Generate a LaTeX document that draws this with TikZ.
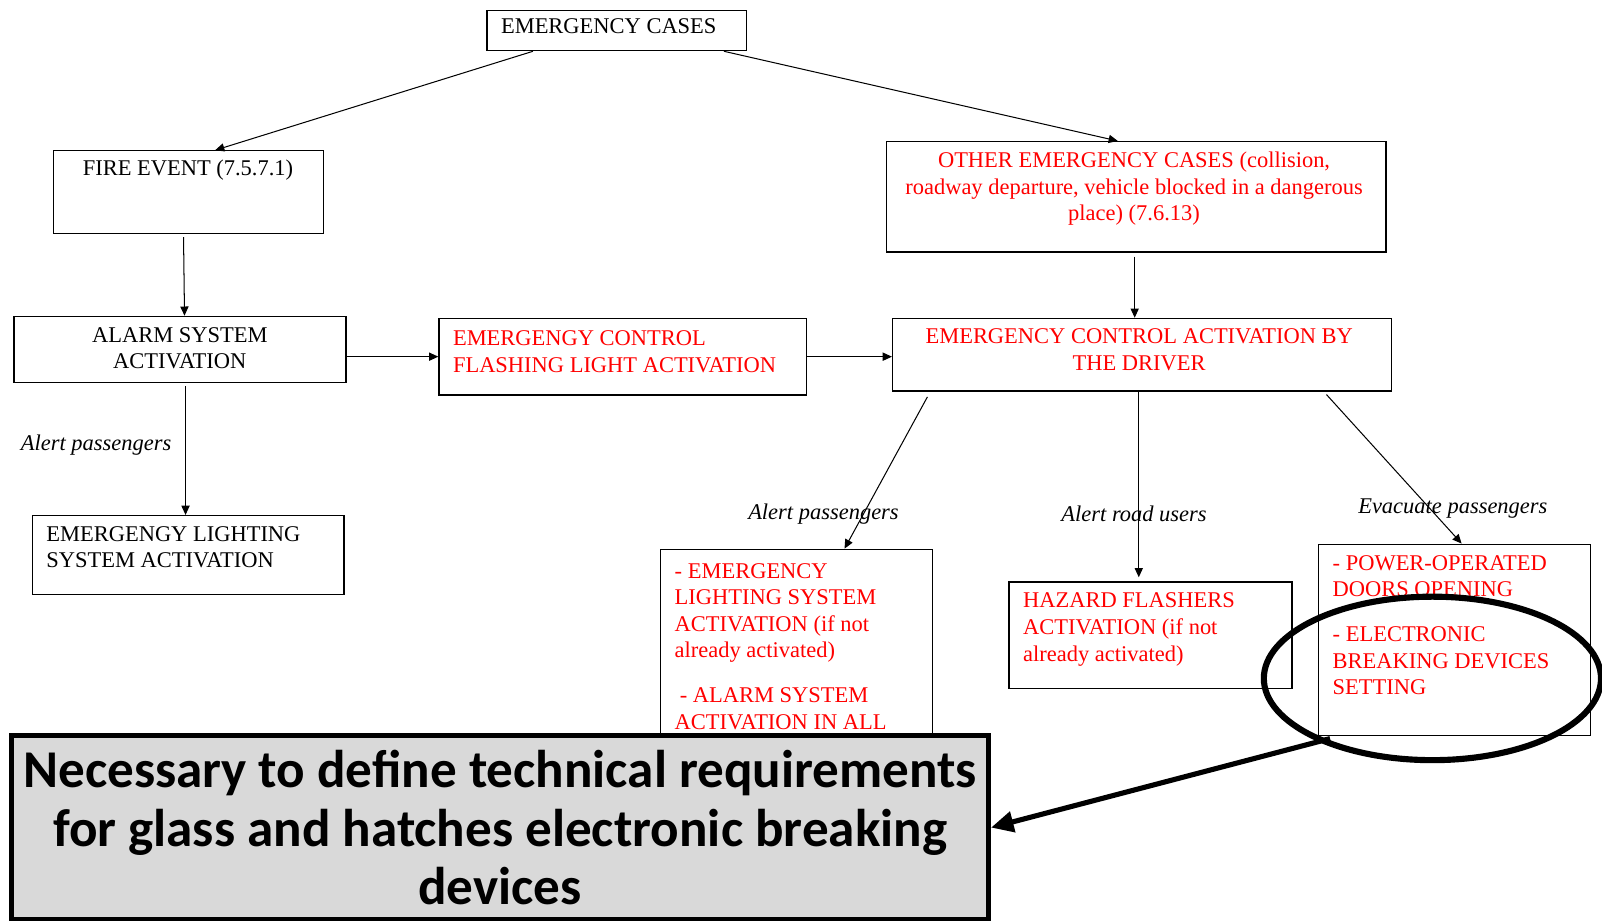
\documentclass[tikz,border=0pt]{standalone}
\usepackage{fontspec}
\setmainfont{Liberation Serif}
\newfontfamily\notefont{Carlito}
\usetikzlibrary{arrows.meta}
\usetikzlibrary{shapes.geometric}

\begin{document}
\begin{tikzpicture}[x=0.5pt,y=0.5pt,yscale=-1,xscale=1,
  box/.style={draw,line width=0.6pt,anchor=north west,inner sep=0pt},
  txt/.style={inner sep=0pt,font=\fontsize{11}{13}\selectfont},
  redtxt/.style={txt,text=red},
  lbl/.style={inner sep=0pt,font=\fontsize{11}{13}\selectfont\itshape},
  link/.style={line width=0.5pt,-{Triangle[length=4.5pt,width=4pt]}},
  ring/.style={ellipse,draw,line width=3pt,inner sep=0pt},
  note/.style={draw,line width=2.5pt,fill=black!15,anchor=north west,inner sep=0pt,align=center,font=\notefont\bfseries\fontsize{26}{28.5}\selectfont},
  bigarrow/.style={line width=2.5pt,-{Triangle[length=11pt,width=10pt]}}]
\useasboundingbox (0,0) rectangle (1568,901);
%Shape: Rectangle [cases]
\node [box,minimum width=127pt,minimum height=19.5pt] (cases) at (476,10) {};
%Shape: Rectangle [fire]
\node [box,minimum width=132pt,minimum height=40.5pt] (fire) at (52,147) {};
%Shape: Rectangle [other]
\node [box,minimum width=244.5pt,minimum height=54pt] (other) at (867,138) {};
%Shape: Rectangle [alarm]
\node [box,minimum width=162.5pt,minimum height=32.5pt] (alarm) at (13,309) {};
%Shape: Rectangle [flash]
\node [box,minimum width=180pt,minimum height=37.5pt] (flash) at (429,311) {};
%Shape: Rectangle [driver]
\node [box,minimum width=244pt,minimum height=35.5pt] (driver) at (873,311) {};
%Shape: Rectangle [elight]
\node [box,minimum width=152.5pt,minimum height=38.5pt] (elight) at (31,504) {};
%Shape: Rectangle [alertbox]
\node [box,minimum width=133pt,minimum height=100pt] (alertbox) at (646,537) {};
%Shape: Rectangle [hazard]
\node [box,minimum width=138.5pt,minimum height=52pt] (hazard) at (987,569) {};
%Shape: Rectangle [power]
\node [box,minimum width=133pt,minimum height=93.5pt] (power) at (1290,532) {};
% Text Node
\draw (490,26) node [txt,anchor=west] (casestxt) {EMERGENCY CASES};
% Text Node
\draw (184,166) node [txt] (firetxt) {FIRE EVENT (7.5.7.1)};
% Text Node
\draw (1110,185) node [redtxt,align=center] (othertxt) {OTHER EMERGENCY CASES (collision,\\roadway departure, vehicle blocked in a dangerous\\place) (7.6.13)};
% Text Node
\draw (176,341) node [txt,align=center] (alarmtxt) {ALARM SYSTEM\\ACTIVATION};
% Text Node
\draw (443,344) node [redtxt,anchor=west,align=left] (flashtxt) {EMERGENGY CONTROL\\FLASHING LIGHT ACTIVATION};
% Text Node
\draw (1115,342.5) node [redtxt,align=center] (drivertxt) {EMERGENCY CONTROL ACTIVATION BY\\THE DRIVER};
% Text Node
\draw (45,535.5) node [txt,anchor=west,align=left] (elighttxt) {EMERGENGY LIGHTING\\SYSTEM ACTIVATION};
% Text Node
\draw (660,551) node [redtxt,anchor=north west,align=left] (alerttxt) {- EMERGENCY\\LIGHTING SYSTEM\\ACTIVATION (if not\\already activated)\\[9pt]\hspace{2.5pt}- ALARM SYSTEM\\ACTIVATION IN ALL};
% Text Node
\draw (1001,580) node [redtxt,anchor=north west,align=left] (hazardtxt) {HAZARD FLASHERS\\ACTIVATION (if not\\already activated)};
% Text Node
\draw (1304,543) node [redtxt,anchor=north west,align=left] (powertxt) {- POWER-OPERATED\\DOORS OPENING\\[9pt]- ELECTRONIC\\BREAKING DEVICES\\SETTING};
% Text Node
\draw (94,436) node [lbl] (lblfire) {Alert passengers};
% Text Node
\draw (806,503) node [lbl] (lblalert) {Alert passengers};
% Text Node
\draw (1110,503) node [lbl] (lblroad) {Alert road users};
% Text Node
\draw (1422,498) node [lbl] (lblevac) {Evacuate passengers};
%Straight Lines
\draw [link] ([xshift=-41pt]cases.south) -- ([xshift=13pt]fire.north);
\draw [link] ([xshift=52.5pt]cases.south) -- ([xshift=-9pt]other.north);
\draw [link,shorten <=1.5pt] ([xshift=-2.5pt]fire.south) -- ([xshift=2.25pt]alarm.north);
\draw [link,shorten <=1.5pt] ([xshift=2.75pt]alarm.south) -- ([xshift=-1.25pt]elight.north);
\draw [link] (alarm.east |- flash.west) -- (flash.west);
\draw [link] (flash.east) -- (driver.west |- flash.east);
\draw [link,shorten <=2pt] ([xshift=-0.75pt]other.south) -- ([xshift=-0.75pt]other.south |- driver.north);
\draw [link,shorten <=3pt] ([xshift=-103.5pt]driver.south) -- ([xshift=23.5pt]alertbox.north);
\draw [link] ([xshift=-1.5pt]driver.south) -- ([xshift=-1.5pt,yshift=-2pt]driver.south |- hazard.north);
\draw [link,shorten <=2pt] ([xshift=89pt]driver.south) -- ([xshift=3.5pt]power.north);
%Shape: Ellipse
\node [ring,minimum width=165pt,minimum height=80pt] (ring) at (1402,664) {};
%Shape: Rectangle [note]
\node [note,minimum width=478pt,minimum height=90.5pt] (note) at (9,717) {Necessary to define technical requirements\\for glass and hatches electronic breaking\\devices};
%Straight Lines
\draw [bigarrow,shorten <=-6pt] (ring.209) -- (note.east);
\end{tikzpicture}
\end{document}
